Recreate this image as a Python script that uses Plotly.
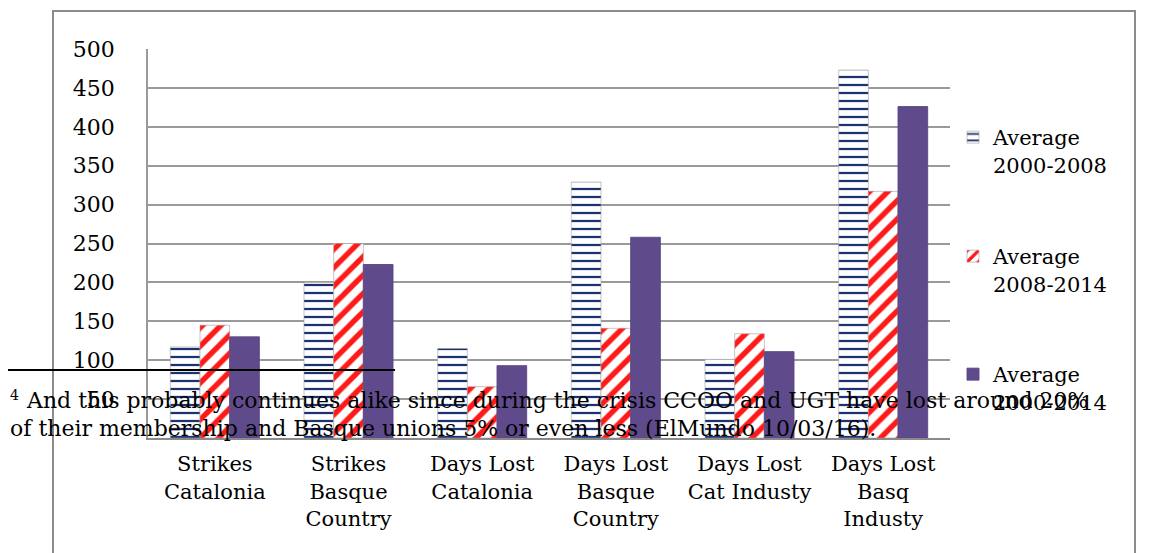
import plotly.graph_objects as go

# Category labels and series values
categories = [
    "Strikes<br>Catalonia",
    "Strikes<br>Basque<br>Country",
    "Days Lost<br>Catalonia",
    "Days Lost<br>Basque<br>Country",
    "Days Lost<br>Cat Industy",
    "Days Lost<br>Basq<br>Industy",
]
avg_2000_2008 = [117, 200, 115, 329, 101, 473]
avg_2008_2014 = [145, 250, 66, 141, 134, 317]
avg_2000_2014 = [130, 223, 93, 258, 111, 426]
series_names = ["Average<br>2000-2008", "Average<br>2008-2014", "Average<br>2000-2014"]
y_ticks = [50, 100, 150, 200, 250, 300, 350, 400, 450, 500]

footnote_mark = "4"
footnote_line1 = ("And this probably continues alike since during the crisis CCOO "
                  "and UGT have lost around 20%")
footnote_line2 = ("of their membership and Basque unions 5% or even less "
                  "(ElMundo 10/03/16).")

W, H = 1153, 553
L, R, T, B = 148, 950, 49, 438  # plot area in pixels
FONT = "DejaVu Serif"


def px(x):
    return (x - L) / (R - L)


def py(y):
    return (B - y) / (B - T)


fig = go.Figure()
fig.add_trace(go.Bar(
    x=categories, y=avg_2000_2008, name=series_names[0], legend="legend",
    marker=dict(color="white",
                pattern=dict(shape="-", fgcolor="#1d3270", bgcolor="white",
                             size=8, solidity=0.28, fillmode="replace"),
                line=dict(color="rgba(160,160,160,0.6)", width=1)),
))
fig.add_trace(go.Bar(
    x=categories, y=avg_2008_2014, name=series_names[1], legend="legend2",
    marker=dict(color="white",
                pattern=dict(shape="/", fgcolor="#ff1a1a", bgcolor="white",
                             size=13, solidity=0.42, fillmode="replace"),
                line=dict(color="rgba(160,160,160,0.6)", width=1)),
))
fig.add_trace(go.Bar(
    x=categories, y=avg_2000_2014, name=series_names[2], legend="legend3",
    marker=dict(color="#5f4b8b",
                line=dict(color="rgba(90,70,130,0.9)", width=1)),
))

legend_common = dict(font=dict(family=FONT, size=21, color="black"),
                     bgcolor="rgba(0,0,0,0)", borderwidth=0,
                     xanchor="left", yanchor="top", valign="top",
                     itemwidth=30, visible=True)

shapes = [
    # outer chart border
    dict(type="rect", xref="paper", yref="paper",
         x0=px(53), x1=px(1135), y0=py(600), y1=py(11),
         line=dict(color="#8c8c8c", width=2), fillcolor="rgba(0,0,0,0)",
         layer="below"),
    # footnote separator
    dict(type="line", xref="paper", yref="paper",
         x0=px(8), x1=px(395), y0=py(370), y1=py(370),
         line=dict(color="black", width=2)),
]

annotations = [
    dict(text=footnote_mark, xref="paper", yref="paper", x=px(8), y=py(395),
         xanchor="left", yanchor="middle", showarrow=False,
         font=dict(family=FONT, size=14, color="black")),
    dict(text=footnote_line1, xref="paper", yref="paper", x=px(24), y=py(400),
         xanchor="left", yanchor="middle", showarrow=False,
         font=dict(family=FONT, size=22, color="black")),
    dict(text=footnote_line2, xref="paper", yref="paper", x=px(8), y=py(428),
         xanchor="left", yanchor="middle", showarrow=False,
         font=dict(family=FONT, size=22, color="black")),
]

fig.update_layout(
    width=W, height=H,
    margin=dict(l=L, r=W - R, t=T, b=H - B),
    paper_bgcolor="white", plot_bgcolor="white",
    showlegend=True,
    barmode="group", bargap=0.334, bargroupgap=0,
    font=dict(family=FONT, size=21, color="black"),
    xaxis=dict(showgrid=False, showline=True, linecolor="#8a8a8a", linewidth=2,
               ticks="", tickfont=dict(family=FONT, size=21), ticklabelstandoff=6),
    yaxis=dict(range=[0, 500], tickvals=y_ticks, showgrid=True,
               gridcolor="#9a9a9a", gridwidth=1.5, showline=True,
               linecolor="#9a9a9a", linewidth=1.5, zeroline=False, ticks="",
               tickfont=dict(family=FONT, size=22), ticklabelstandoff=27),
    legend=dict(x=px(953), y=py(117), **legend_common),
    legend2=dict(x=px(953), y=py(236), **legend_common),
    legend3=dict(x=px(953), y=py(354), **legend_common),
    shapes=shapes,
    annotations=annotations,
)

fig.write_html("out.html")
